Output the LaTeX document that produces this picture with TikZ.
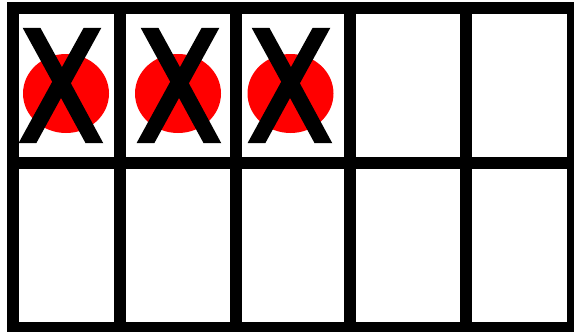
\documentclass[tikz,border=0pt]{standalone}
\usepackage{fontspec}
\newfontfamily\crossfont[FakeBold=3]{DejaVu Sans}
\usetikzlibrary{positioning, shapes.geometric}
\tikzset{
  frameline/.style={line width=12pt, black},
  counter/.style={ellipse, fill=red, minimum width=86pt, minimum height=79pt, inner sep=0pt},
  crossmark/.style={inner sep=0pt, font=\crossfont\fontsize{152}{152}\selectfont, xscale=0.82, transform shape}
}
\begin{document}
\begin{tikzpicture}[x=1pt, y=-1pt]
    \useasboundingbox (0,0) rectangle (574,332);
    % ten frame
    \draw[frameline] (13,8) rectangle (573,328);
    \draw[frameline] (13,163) -- (573,163);
    \foreach \xpos in {120, 235.5, 350, 465.5}
      \draw[frameline] (\xpos,8) -- (\xpos,328);
    % counters, crossed out
    \node[counter] (dot1) at (66,93.5) {};
    \node[counter] (dot2) at (178,93.5) {};
    \node[counter] (dot3) at (290.5,93.5) {};
    \node[crossmark] (cross1) at (61,85.5) {X};
    \node[crossmark] (cross2) at (179,85.5) {X};
    \node[crossmark] (cross3) at (290,85.5) {X};
  \end{tikzpicture}
\end{document}
